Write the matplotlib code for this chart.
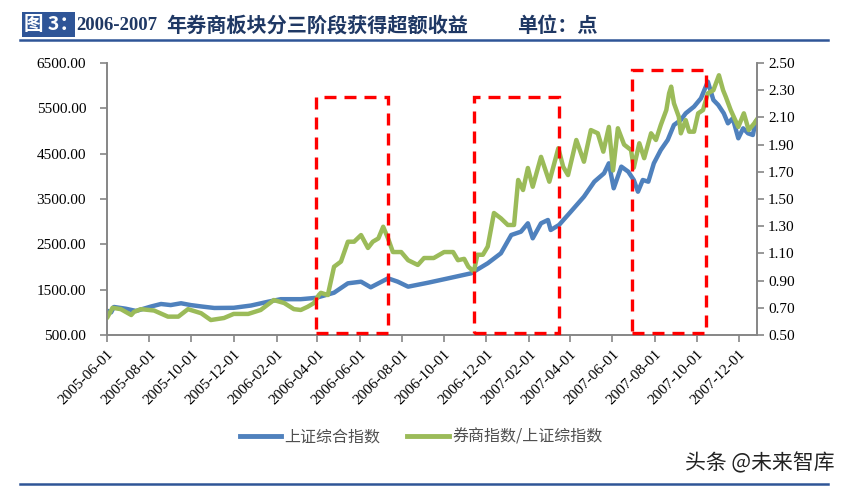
import matplotlib
matplotlib.use("Agg")
import matplotlib.pyplot as plt
import matplotlib.dates as mdates
from matplotlib.patches import Rectangle
from matplotlib.lines import Line2D
import pandas as pd

# ---------------- data ----------------
sh_dates = ["2005-06-01", "2005-06-07", "2005-06-11", "2005-06-28", "2005-07-13", "2005-08-04",
            "2005-08-18", "2005-09-01", "2005-09-16", "2005-09-30", "2005-10-15", "2005-11-03",
            "2005-12-01", "2005-12-26", "2006-01-20", "2006-02-07", "2006-03-08", "2006-03-30",
            "2006-04-25", "2006-05-15", "2006-06-03", "2006-06-17", "2006-07-12", "2006-07-26",
            "2006-08-10", "2006-09-08", "2006-10-07", "2006-11-09", "2006-12-03", "2006-12-22",
            "2007-01-06", "2007-01-20", "2007-01-30", "2007-02-06", "2007-02-18", "2007-02-28",
            "2007-03-04", "2007-03-16", "2007-04-02", "2007-04-21", "2007-05-06", "2007-05-20",
            "2007-05-27", "2007-06-03", "2007-06-14", "2007-06-24", "2007-07-02", "2007-07-08",
            "2007-07-15", "2007-07-23", "2007-07-31", "2007-08-10", "2007-08-20", "2007-08-29",
            "2007-09-08", "2007-09-15", "2007-09-27", "2007-10-07", "2007-10-17", "2007-10-25",
            "2007-11-01", "2007-11-09", "2007-11-15", "2007-11-22", "2007-11-30", "2007-12-07",
            "2007-12-14", "2007-12-21", "2007-12-25", "2007-12-28"]
sh_values = [1036, 1000, 1118, 1080, 1030, 1130,
             1184, 1160, 1200, 1160, 1130, 1096,
             1100, 1150, 1235, 1290, 1290, 1320,
             1433, 1640, 1676, 1552, 1750, 1676,
             1566, 1654, 1750, 1861, 2082, 2302,
             2706, 2779, 2964, 2633, 2964, 3037,
             2816, 2927, 3220, 3551, 3882, 4067,
             4288, 3736, 4214, 4103, 3919, 3661,
             3919, 3882, 4288, 4581, 4802, 5133,
             5243, 5390, 5537, 5721, 6088, 5684,
             5574, 5390, 5170, 5280, 4839, 5059,
             4949, 4912, 5206, 5260]

ratio_dates = ["2005-06-01", "2005-06-09", "2005-06-21", "2005-07-06", "2005-07-10", "2005-07-20",
               "2005-08-08", "2005-08-28", "2005-09-12", "2005-09-26", "2005-10-15", "2005-10-29",
               "2005-11-17", "2005-12-01", "2005-12-22", "2006-01-09", "2006-01-28", "2006-02-12",
               "2006-02-26", "2006-03-08", "2006-03-18", "2006-03-27", "2006-04-03", "2006-04-06",
               "2006-04-16", "2006-04-25", "2006-05-05", "2006-05-15", "2006-05-24", "2006-06-03",
               "2006-06-13", "2006-06-20", "2006-06-28", "2006-07-05", "2006-07-12", "2006-07-19",
               "2006-07-31", "2006-08-10", "2006-08-24", "2006-09-02", "2006-09-16", "2006-10-01",
               "2006-10-14", "2006-10-21", "2006-10-30", "2006-11-05", "2006-11-13", "2006-11-18",
               "2006-11-26", "2006-12-03", "2006-12-12", "2006-12-22", "2007-01-01", "2007-01-10",
               "2007-01-16", "2007-01-23", "2007-01-30", "2007-02-06", "2007-02-18", "2007-03-02",
               "2007-03-15", "2007-03-22", "2007-03-29", "2007-04-10", "2007-04-21", "2007-05-01",
               "2007-05-11", "2007-05-19", "2007-05-27", "2007-06-02", "2007-06-09", "2007-06-18",
               "2007-06-28", "2007-07-02", "2007-07-10", "2007-07-17", "2007-07-27", "2007-08-03",
               "2007-08-10", "2007-08-18", "2007-08-22", "2007-08-25", "2007-08-29", "2007-09-05",
               "2007-09-08", "2007-09-15", "2007-09-20", "2007-09-27", "2007-10-03", "2007-10-10",
               "2007-10-17", "2007-10-25", "2007-11-02", "2007-11-08", "2007-11-12", "2007-11-19",
               "2007-11-30", "2007-12-08", "2007-12-15", "2007-12-23", "2007-12-28"]
ratio_values = [0.625, 0.70, 0.69, 0.647, 0.67, 0.69,
                0.68, 0.635, 0.635, 0.69, 0.66, 0.61,
                0.625, 0.655, 0.655, 0.684, 0.757, 0.735,
                0.69, 0.684, 0.708, 0.735, 0.794, 0.81,
                0.794, 1.002, 1.04, 1.186, 1.186, 1.235,
                1.14, 1.186, 1.21, 1.296, 1.21, 1.11,
                1.11, 1.05, 1.015, 1.066, 1.066, 1.11,
                1.11, 1.05, 1.06, 1.002, 0.966, 1.09,
                1.09, 1.15, 1.397, 1.358, 1.309, 1.309,
                1.64, 1.566, 1.728, 1.59, 1.81, 1.627,
                1.873, 1.737, 1.676, 1.934, 1.774, 2.007,
                1.983, 1.848, 2.03, 1.71, 2.02, 1.90,
                1.86, 1.73, 1.91, 1.80, 1.983, 1.934,
                2.044, 2.154, 2.277, 2.326, 2.204, 2.105,
                1.983, 2.08, 1.995, 1.995, 2.13, 2.154,
                2.277, 2.30, 2.41, 2.30, 2.25, 2.154,
                2.03, 2.13, 2.007, 2.056, 2.093]

left_ticks = [500, 1500, 2500, 3500, 4500, 5500, 6500]
right_ticks = [0.5, 0.7, 0.9, 1.1, 1.3, 1.5, 1.7, 1.9, 2.1, 2.3, 2.5]
x_tick_dates = ["2005-06-01", "2005-08-01", "2005-10-01", "2005-12-01", "2006-02-01", "2006-04-01",
                "2006-06-01", "2006-08-01", "2006-10-01", "2006-12-01", "2007-02-01", "2007-04-01",
                "2007-06-01", "2007-08-01", "2007-10-01", "2007-12-01"]

# highlight boxes: (start, end, top on right axis)
box_starts = ["2006-03-30", "2006-11-13", "2007-06-29"]
box_ends = ["2006-07-12", "2007-03-16", "2007-10-14"]
box_tops = [2.25, 2.25, 2.45]
box_bottom = 0.515

series_names = ["上证综合指数", "券商指数/上证综指数"]
title_tag = "图 3："
title_years = "2006-2007"
title_main = "年券商板块分三阶段获得超额收益"
title_unit = "单位：点"
watermark = "头条 @未来智库"

# ---------------- style ----------------
BLUE = "#4F81BD"
GREEN = "#9BBB59"
AXIS = "#868686"
NAVY = "#1F3864"
RULE = "#2F5597"
CJK = ["Noto Sans CJK SC", "DejaVu Sans"]
SERIF = ["Liberation Serif", "Noto Sans CJK SC"]

W, H = 841, 486
fig = plt.figure(figsize=(W / 100, H / 100), dpi=100)
fig.patch.set_facecolor("white")

def fx(px):
    return px / W

def fy(py):
    return 1 - py / H

ax = fig.add_axes([fx(107), fy(335), fx(757) - fx(107), fy(63) - fy(335)])
ax2 = ax.twinx()

sh_x = pd.to_datetime(sh_dates)
r_x = pd.to_datetime(ratio_dates)

ax.plot(sh_x, sh_values, color=BLUE, lw=3.2, solid_joinstyle="round", solid_capstyle="round")
ax2.plot(r_x, ratio_values, color=GREEN, lw=3.2, solid_joinstyle="round", solid_capstyle="round")

ax.set_xlim(pd.Timestamp("2005-06-01"), pd.Timestamp("2007-12-27"))
ax.set_ylim(500, 6500)
ax2.set_ylim(0.5, 2.5)

ax.set_yticks(left_ticks)
ax.set_yticklabels([f"{v:.2f}" for v in left_ticks])
ax2.set_yticks(right_ticks)
ax2.set_yticklabels([f"{v:.2f}" for v in right_ticks])
ax.set_xticks(pd.to_datetime(x_tick_dates))
ax.set_xticklabels(x_tick_dates, rotation=45, ha="right", rotation_mode="anchor")

for a in (ax, ax2):
    a.spines["top"].set_visible(False)
    for s in ("left", "right", "bottom"):
        a.spines[s].set_color(AXIS)
        a.spines[s].set_linewidth(1.2)
    a.tick_params(colors=AXIS, labelcolor="black", length=5, width=1.2, direction="out")
    for lab in a.get_yticklabels() + a.get_xticklabels():
        lab.set_fontfamily(SERIF)
        lab.set_fontsize(11)
ax.tick_params(axis="y", pad=10)
ax2.tick_params(axis="y", pad=3)
ax.tick_params(axis="x", pad=4)

# red dashed boxes
for s, e, t in zip(box_starts, box_ends, box_tops):
    x0 = mdates.date2num(pd.Timestamp(s))
    x1 = mdates.date2num(pd.Timestamp(e))
    rect = Rectangle((x0, box_bottom), x1 - x0, t - box_bottom, fill=False,
                     edgecolor="#FF0000", lw=2.4, linestyle=(0, (3.6, 2.4)),
                     clip_on=False, zorder=5)
    ax2.add_patch(rect)

# legend
handles = [Line2D([], [], color=BLUE, lw=3.5), Line2D([], [], color=GREEN, lw=3.5)]
fig.legend(handles, series_names, loc="center", bbox_to_anchor=(fx(421), fy(437)),
           ncol=2, frameon=False, handlelength=2.6, columnspacing=1.7, handletextpad=0.2,
           prop={"family": CJK, "size": 11.5}, labelcolor="#505050")

# title block
fig.patches.append(Rectangle((fx(22), fy(37)), fx(75) - fx(22), fy(12) - fy(37),
                             transform=fig.transFigure, facecolor=RULE, edgecolor="none"))
fig.text(fx(24), fy(25), title_tag, color="white", fontsize=14, fontweight="bold",
         family=CJK, va="center", ha="left")
fig.text(fx(76), fy(25), title_years, color=NAVY, fontsize=13.5, fontweight="bold",
         family=SERIF, va="center", ha="left")
fig.text(fx(166), fy(25), title_main, color=NAVY, fontsize=14.5, fontweight="bold",
         family=CJK, va="center", ha="left")
fig.text(fx(517), fy(25), title_unit, color=NAVY, fontsize=14.5, fontweight="bold",
         family=CJK, va="center", ha="left")
fig.add_artist(Line2D([fx(20), fx(828)], [fy(40), fy(40)], transform=fig.transFigure,
                      color=RULE, lw=1.8))
fig.add_artist(Line2D([fx(20), fx(828)], [fy(484), fy(484)], transform=fig.transFigure,
                      color=RULE, lw=1.8))

fig.text(fx(835), fy(463), watermark, color="#222222", fontsize=15, family=CJK,
         va="center", ha="right")

fig.savefig("out.png", dpi=100, facecolor="white")
